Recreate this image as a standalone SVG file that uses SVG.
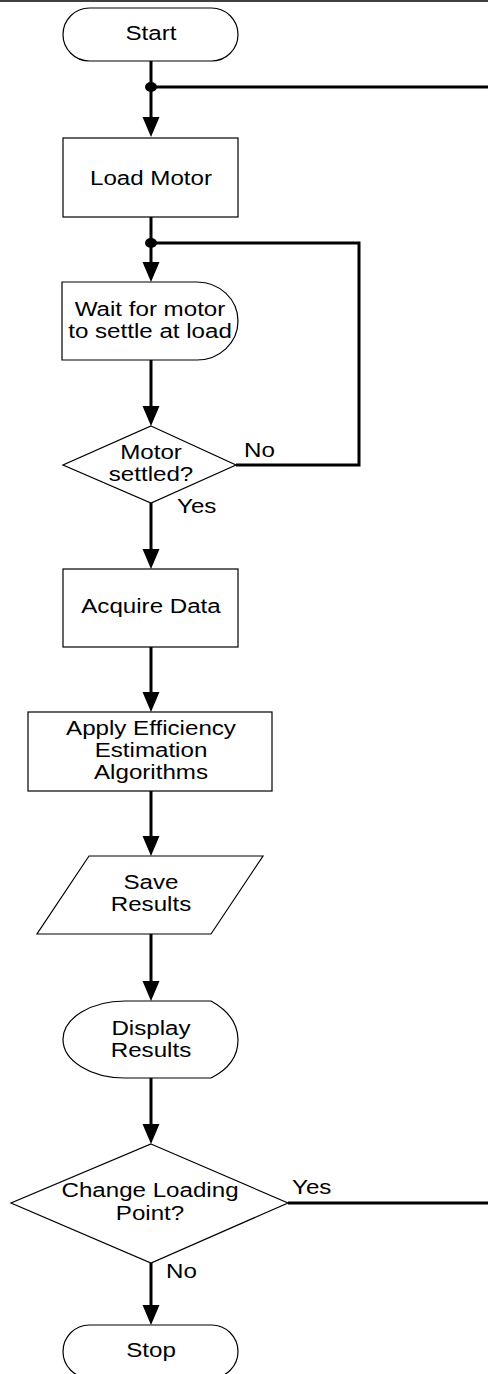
<svg xmlns="http://www.w3.org/2000/svg" width="488" height="1374" viewBox="0 0 488 1374">
  <style>
    .shape { fill: #ffffff; stroke: #000000; stroke-width: 1.2; }
    .conn { fill: none; stroke: #000000; stroke-width: 3; }
    .arrow { marker-end: url(#head); }
    .t { font-family: "Liberation Sans", Arial, sans-serif; font-size: 21px; fill: #000000; text-anchor: middle; }
    .lbl { font-family: "Liberation Sans", Arial, sans-serif; font-size: 21px; fill: #000000; text-anchor: start; }
  </style>
  <defs>
    <marker id="head" markerUnits="userSpaceOnUse" markerWidth="20" markerHeight="18" refX="12" refY="9" orient="auto">
      <path d="M0,0.5 L20,9 L0,17.5 Z" fill="#000000"/>
    </marker>
  </defs>

  <rect width="488" height="1374" fill="#ffffff"/>
  <line x1="0" y1="1" x2="488" y2="1" stroke="#000000" stroke-width="1.5"/>

  <!-- connectors -->
  <g id="connectors">
    <path class="conn arrow" d="M151,61 V129"/>
    <path class="conn" d="M151,87 H488"/>
    <ellipse cx="151" cy="87" rx="6" ry="5" fill="#000000"/>
    <path class="conn arrow" d="M151,217 V274"/>
    <path class="conn" d="M236,465 H359 V243 H151"/>
    <ellipse cx="151" cy="243" rx="6" ry="5" fill="#000000"/>
    <path class="conn arrow" d="M151,360 V418"/>
    <path class="conn arrow" d="M151,503 V561"/>
    <path class="conn arrow" d="M151,647 V704"/>
    <path class="conn arrow" d="M151,791 V848"/>
    <path class="conn arrow" d="M151,934 V993"/>
    <path class="conn arrow" d="M151,1078 V1136"/>
    <path class="conn" d="M288,1203 H488"/>
    <path class="conn arrow" d="M151,1263 V1317"/>
    <text class="lbl" transform="translate(244,457) scale(1.15,1)">No</text>
    <text class="lbl" transform="translate(177,513) scale(1.15,1)">Yes</text>
    <text class="lbl" transform="translate(292,1194) scale(1.15,1)">Yes</text>
    <text class="lbl" transform="translate(166,1278) scale(1.15,1)">No</text>
  </g>

  <g id="start">
    <rect class="shape" x="63" y="8" width="175" height="53" rx="26.5" ry="26.5"/>
    <text class="t" transform="translate(151,40) scale(1.15,1)">Start</text>
  </g>

  <g id="load-motor">
    <rect class="shape" x="63" y="138" width="175" height="79"/>
    <text class="t" transform="translate(151,185) scale(1.15,1)">Load Motor</text>
  </g>

  <g id="wait-settle">
    <path class="shape" d="M62,282 H197 A41,39 0 0 1 197,360 H62 Z"/>
    <text class="t" transform="translate(150,316) scale(1.15,1)"><tspan x="0" y="0">Wait for motor</tspan><tspan x="0" y="22">to settle at load</tspan></text>
  </g>

  <g id="motor-settled">
    <path class="shape" d="M151,426 L236,465 L151,503 L63,465 Z"/>
    <text class="t" transform="translate(151,459) scale(1.15,1)"><tspan x="0" y="0">Motor</tspan><tspan x="0" y="22">settled?</tspan></text>
  </g>

  <g id="acquire-data">
    <rect class="shape" x="63" y="569" width="175" height="78"/>
    <text class="t" transform="translate(151,613) scale(1.15,1)">Acquire Data</text>
  </g>

  <g id="apply-algorithms">
    <rect class="shape" x="28" y="712" width="244" height="79"/>
    <text class="t" transform="translate(151,735) scale(1.15,1)"><tspan x="0" y="0">Apply Efficiency</tspan><tspan x="0" y="22">Estimation</tspan><tspan x="0" y="44">Algorithms</tspan></text>
  </g>

  <g id="save-results">
    <path class="shape" d="M89,856 H263 L211,934 H37 Z"/>
    <text class="t" transform="translate(151,889) scale(1.15,1)"><tspan x="0" y="0">Save</tspan><tspan x="0" y="22">Results</tspan></text>
  </g>

  <g id="display-results">
    <path class="shape" d="M125,1001 H211 C231,1012 238,1025 238,1040 C238,1055 231,1068 211,1078 H125 A62,38.5 0 0 1 125,1001 Z"/>
    <text class="t" transform="translate(151,1035) scale(1.15,1)"><tspan x="0" y="0">Display</tspan><tspan x="0" y="22">Results</tspan></text>
  </g>

  <g id="change-loading">
    <path class="shape" d="M151,1144 L288,1203 L151,1263 L11,1203 Z"/>
    <text class="t" transform="translate(150,1197) scale(1.15,1)"><tspan x="0" y="0">Change Loading</tspan><tspan x="0" y="23">Point?</tspan></text>
  </g>

  <g id="stop">
    <rect class="shape" x="63" y="1325" width="175" height="53" rx="26.5" ry="26.5"/>
    <text class="t" transform="translate(151,1357) scale(1.15,1)">Stop</text>
  </g>
</svg>
